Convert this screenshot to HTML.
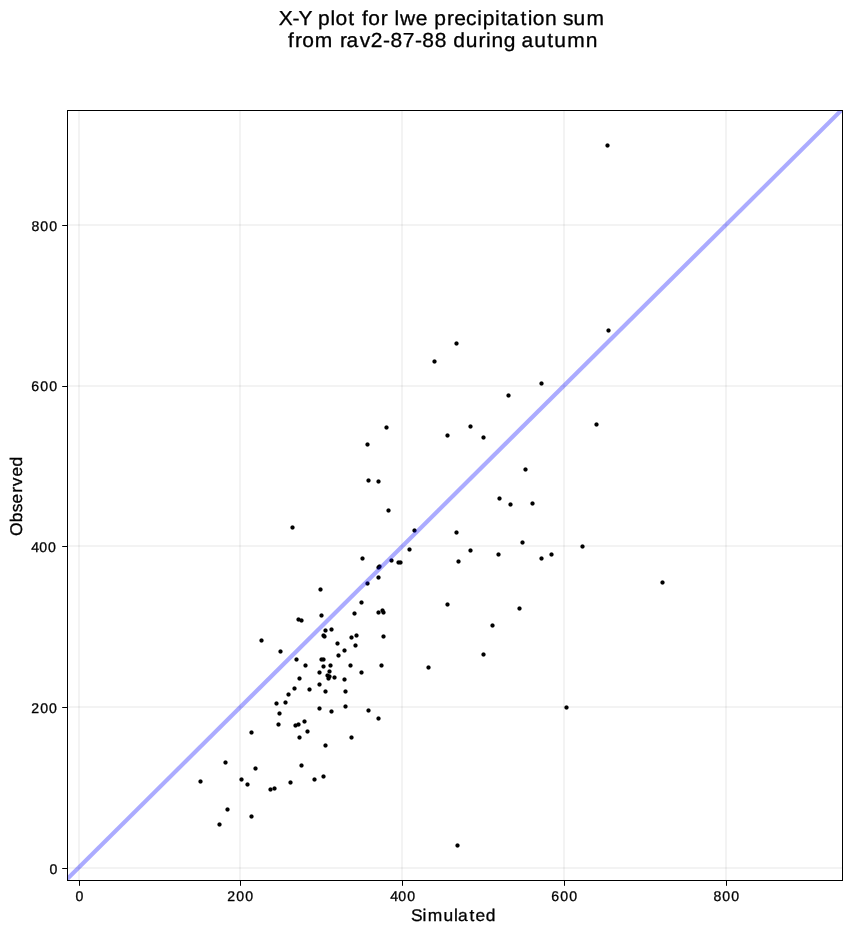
<!DOCTYPE html>
<html lang="en">
<head>
<meta charset="utf-8">
<title>X-Y plot for lwe precipitation sum from rav2-87-88 during autumn</title>
<style>
html,body{margin:0;padding:0;background:#ffffff;}
body{width:851px;height:934px;overflow:hidden;}
svg{display:block;will-change:transform;}
text{font-family:"Liberation Sans",sans-serif;fill:#000000;stroke:#000000;stroke-width:0.3px;text-rendering:geometricPrecision;white-space:pre;}
.tick{font-size:14.1px;}
.lbl{font-size:16.9px;}
.ttl{font-size:20.3px;}
</style>
</head>
<body>
<svg width="851" height="934" viewBox="0 0 851 934">
<defs><clipPath id="ax"><rect x="67.5" y="110.5" width="775" height="770"/></clipPath></defs>
<rect x="0" y="0" width="851" height="934" fill="#ffffff"/>
<defs><g id="d" shape-rendering="crispEdges">
<rect x="-1.5" y="-1.5" width="3" height="3"/>
<g fill-opacity="0.6"><rect x="1.5" y="-0.5" width="1" height="1"/><rect x="-2.5" y="-0.5" width="1" height="1"/><rect x="-0.5" y="1.5" width="1" height="1"/><rect x="-0.5" y="-2.5" width="1" height="1"/></g>
<g fill-opacity="0.341"><rect x="1.5" y="-1.5" width="1" height="1"/><rect x="1.5" y="0.5" width="1" height="1"/><rect x="-2.5" y="-1.5" width="1" height="1"/><rect x="-2.5" y="0.5" width="1" height="1"/><rect x="-1.5" y="1.5" width="1" height="1"/><rect x="0.5" y="1.5" width="1" height="1"/><rect x="-1.5" y="-2.5" width="1" height="1"/><rect x="0.5" y="-2.5" width="1" height="1"/></g>
</g></defs>
<g id="points" fill="#000000">
<use href="#d" x="607.5" y="145.5"/>
<use href="#d" x="608.5" y="330.5"/>
<use href="#d" x="456.5" y="343.5"/>
<use href="#d" x="434.5" y="361.5"/>
<use href="#d" x="541.5" y="383.5"/>
<use href="#d" x="508.5" y="395.5"/>
<use href="#d" x="596.5" y="424.5"/>
<use href="#d" x="470.5" y="426.5"/>
<use href="#d" x="386.5" y="427.5"/>
<use href="#d" x="447.5" y="435.5"/>
<use href="#d" x="483.5" y="437.5"/>
<use href="#d" x="367.5" y="444.5"/>
<use href="#d" x="525.5" y="469.5"/>
<use href="#d" x="368.5" y="480.5"/>
<use href="#d" x="378.5" y="481.5"/>
<use href="#d" x="499.5" y="498.5"/>
<use href="#d" x="510.5" y="504.5"/>
<use href="#d" x="532.5" y="503.5"/>
<use href="#d" x="388.5" y="510.5"/>
<use href="#d" x="292.5" y="527.5"/>
<use href="#d" x="414.5" y="530.5"/>
<use href="#d" x="456.5" y="532.5"/>
<use href="#d" x="522.5" y="542.5"/>
<use href="#d" x="582.5" y="546.5"/>
<use href="#d" x="409.5" y="549.5"/>
<use href="#d" x="470.5" y="550.5"/>
<use href="#d" x="498.5" y="554.5"/>
<use href="#d" x="551.5" y="554.5"/>
<use href="#d" x="541.5" y="558.5"/>
<use href="#d" x="362.5" y="558.5"/>
<use href="#d" x="391.5" y="560.5"/>
<use href="#d" x="398.5" y="562.5"/>
<use href="#d" x="400.5" y="562.5"/>
<use href="#d" x="458.5" y="561.5"/>
<use href="#d" x="378.5" y="567.5"/>
<use href="#d" x="379.5" y="566.5"/>
<use href="#d" x="378.5" y="577.5"/>
<use href="#d" x="367.5" y="583.5"/>
<use href="#d" x="662.5" y="582.5"/>
<use href="#d" x="320.5" y="589.5"/>
<use href="#d" x="361.5" y="602.5"/>
<use href="#d" x="447.5" y="604.5"/>
<use href="#d" x="519.5" y="608.5"/>
<use href="#d" x="382.5" y="610.5"/>
<use href="#d" x="383.5" y="612.5"/>
<use href="#d" x="378.5" y="612.5"/>
<use href="#d" x="354.5" y="613.5"/>
<use href="#d" x="321.5" y="615.5"/>
<use href="#d" x="298.5" y="619.5"/>
<use href="#d" x="301.5" y="620.5"/>
<use href="#d" x="492.5" y="625.5"/>
<use href="#d" x="325.5" y="630.5"/>
<use href="#d" x="331.5" y="629.5"/>
<use href="#d" x="323.5" y="635.5"/>
<use href="#d" x="324.5" y="636.5"/>
<use href="#d" x="356.5" y="635.5"/>
<use href="#d" x="351.5" y="637.5"/>
<use href="#d" x="383.5" y="636.5"/>
<use href="#d" x="261.5" y="640.5"/>
<use href="#d" x="337.5" y="643.5"/>
<use href="#d" x="355.5" y="645.5"/>
<use href="#d" x="280.5" y="651.5"/>
<use href="#d" x="344.5" y="650.5"/>
<use href="#d" x="483.5" y="654.5"/>
<use href="#d" x="338.5" y="655.5"/>
<use href="#d" x="296.5" y="659.5"/>
<use href="#d" x="321.5" y="659.5"/>
<use href="#d" x="323.5" y="659.5"/>
<use href="#d" x="305.5" y="665.5"/>
<use href="#d" x="323.5" y="666.5"/>
<use href="#d" x="330.5" y="665.5"/>
<use href="#d" x="350.5" y="665.5"/>
<use href="#d" x="381.5" y="665.5"/>
<use href="#d" x="428.5" y="667.5"/>
<use href="#d" x="329.5" y="671.5"/>
<use href="#d" x="319.5" y="672.5"/>
<use href="#d" x="361.5" y="672.5"/>
<use href="#d" x="327.5" y="675.5"/>
<use href="#d" x="329.5" y="676.5"/>
<use href="#d" x="328.5" y="678.5"/>
<use href="#d" x="334.5" y="677.5"/>
<use href="#d" x="299.5" y="678.5"/>
<use href="#d" x="344.5" y="679.5"/>
<use href="#d" x="319.5" y="684.5"/>
<use href="#d" x="294.5" y="688.5"/>
<use href="#d" x="309.5" y="689.5"/>
<use href="#d" x="325.5" y="691.5"/>
<use href="#d" x="345.5" y="691.5"/>
<use href="#d" x="288.5" y="694.5"/>
<use href="#d" x="285.5" y="702.5"/>
<use href="#d" x="276.5" y="703.5"/>
<use href="#d" x="345.5" y="706.5"/>
<use href="#d" x="566.5" y="707.5"/>
<use href="#d" x="319.5" y="708.5"/>
<use href="#d" x="368.5" y="710.5"/>
<use href="#d" x="331.5" y="711.5"/>
<use href="#d" x="279.5" y="713.5"/>
<use href="#d" x="378.5" y="718.5"/>
<use href="#d" x="304.5" y="721.5"/>
<use href="#d" x="278.5" y="724.5"/>
<use href="#d" x="298.5" y="724.5"/>
<use href="#d" x="295.5" y="725.5"/>
<use href="#d" x="307.5" y="731.5"/>
<use href="#d" x="251.5" y="732.5"/>
<use href="#d" x="351.5" y="737.5"/>
<use href="#d" x="299.5" y="737.5"/>
<use href="#d" x="325.5" y="745.5"/>
<use href="#d" x="225.5" y="762.5"/>
<use href="#d" x="301.5" y="765.5"/>
<use href="#d" x="255.5" y="768.5"/>
<use href="#d" x="323.5" y="776.5"/>
<use href="#d" x="314.5" y="779.5"/>
<use href="#d" x="241.5" y="779.5"/>
<use href="#d" x="200.5" y="781.5"/>
<use href="#d" x="290.5" y="782.5"/>
<use href="#d" x="247.5" y="784.5"/>
<use href="#d" x="274.5" y="788.5"/>
<use href="#d" x="270.5" y="789.5"/>
<use href="#d" x="227.5" y="809.5"/>
<use href="#d" x="251.5" y="816.5"/>
<use href="#d" x="219.5" y="824.5"/>
<use href="#d" x="457.5" y="845.5"/>
</g>
<g id="grid" fill="#000000" fill-opacity="0.047" shape-rendering="crispEdges">
<rect x="78" y="111" width="2" height="769"/>
<rect x="239" y="111" width="2" height="769"/>
<rect x="401" y="111" width="2" height="769"/>
<rect x="563" y="111" width="2" height="769"/>
<rect x="725" y="111" width="2" height="769"/>
<rect x="68" y="867" width="774" height="2"/>
<rect x="68" y="706" width="774" height="2"/>
<rect x="68" y="545" width="774" height="2"/>
<rect x="68" y="385" width="774" height="2"/>
<rect x="68" y="224" width="774" height="2"/>
</g>
<g clip-path="url(#ax)"><line x1="60" y1="886.15" x2="850" y2="101.68" stroke="#0000ff" stroke-opacity="0.33" stroke-width="4.17"/></g>
<g id="frame" fill="#000000" shape-rendering="crispEdges">
<rect x="67" y="110" width="776" height="1"/>
<rect x="67" y="880" width="776" height="1"/>
<rect x="67" y="110" width="1" height="771"/>
<rect x="842" y="110" width="1" height="771"/>
</g>
<g id="ticks" fill="#000000">
<rect x="79" y="881" width="1" height="4.8"/>
<rect x="240" y="881" width="1" height="4.8"/>
<rect x="402" y="881" width="1" height="4.8"/>
<rect x="564" y="881" width="1" height="4.8"/>
<rect x="726" y="881" width="1" height="4.8"/>
<rect x="62.2" y="868" width="4.8" height="1"/>
<rect x="62.2" y="707" width="4.8" height="1"/>
<rect x="62.2" y="546" width="4.8" height="1"/>
<rect x="62.2" y="386" width="4.8" height="1"/>
<rect x="62.2" y="225" width="4.8" height="1"/>
</g>
<g id="xticklabels">
<text class="tick" x="75.48" y="901">0</text>
<text class="tick" x="227.13 236.25 245.13" y="901">200</text>
<text class="tick" x="390.32 398.25 407.13" y="901">400</text>
<text class="tick" x="551.36 560.25 569.13" y="901">600</text>
<text class="tick" x="713.41 722.25 731.13" y="901">800</text>
</g>
<g id="yticklabels">
<text class="tick" x="49.48" y="874">0</text>
<text class="tick" x="31.13 40.28 49.08" y="713">200</text>
<text class="tick" x="31.32 39.23 47.98" y="552">400</text>
<text class="tick" x="31.33 40.28 49.18" y="391">600</text>
<text class="tick" x="31.41 40.28 49.18" y="231">800</text>
</g>
<text class="lbl" transform="scale(1.03 1)" x="399.12 410.22 415.27 430.6 440.87 444.68 455.77 461.68 471.71" y="920.8">Simulated</text>
<text class="lbl" transform="translate(22.3 0) rotate(-90) scale(1.03 1)" x="-520.47 -507.07 -497.3 -488.72 -478.32 -471.98 -462.72 -452.81" y="0">Observed</text>
<text class="ttl" transform="scale(1.035 1)" x="269.38 282.65 288.41 300.93 307.36 319.23 324.22 336.44 343.01 349.72 355.74 367.98 374.89 381.23 386.47 401.69 413.09 419.52 431.87 438.96 450.24 461.09 466.39 478.27 483.95 489.92 502.88 509.81 514.79 526.56 538.13 544.08 554.21 566.63" y="24.9">X-Y plot for lwe precipitation sum</text>
<text class="ttl" transform="scale(1.035 1)" x="278.18 284.92 291.94 304.12 321.7 328.54 334.85 347.48 358.23 370.14 377.26 389.21 400.91 408.04 420.03 431.67 437.89 449.9 462.4 469.68 474.91 486.71 498.44 503.84 516.26 528.74 535.59 548.02 565.97" y="46.8">from rav2-87-88 during autumn</text>
</svg>
</body>
</html>
